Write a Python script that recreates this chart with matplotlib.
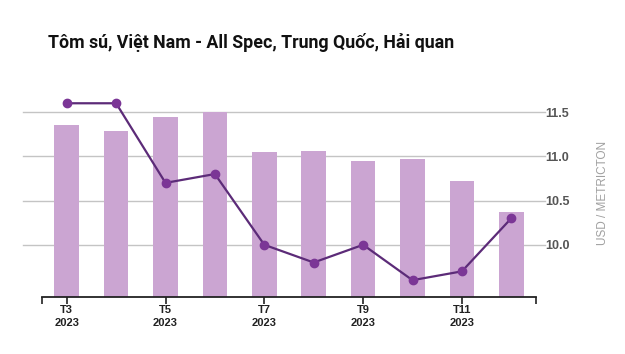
import numpy as np
import matplotlib.pyplot as plt

months = ["T3", "T4", "T5", "T6", "T7", "T8", "T9", "T10", "T11", "T12"]
year = "2023"
bar_values = [11.35, 11.29, 11.45, 11.50, 11.05, 11.06, 10.95, 10.97, 10.72, 10.37]
line_values = [11.60, 11.60, 10.70, 10.80, 10.00, 9.80, 10.00, 9.60, 9.70, 10.30]
yticks = [10.0, 10.5, 11.0, 11.5]

bar_color = "#cba5d2"
line_color = "#5c2b78"
marker_color = "#7b3696"

fig = plt.figure(figsize=(6.25, 3.54), dpi=100)
ax = fig.add_axes([42 / 625, 1 - 297 / 354, 494 / 625, 207 / 354])

x = np.arange(len(months))
ax.bar(x, bar_values, width=0.5, color=bar_color, zorder=2)
ax.plot(x, line_values, color=line_color, lw=1.6, zorder=4)
ax.plot(x, line_values, "o", color=marker_color, ms=6, zorder=5)

ax.set_xlim(-0.5, len(months) - 0.5)
ax.set_ylim(9.41, 11.75)

# grid lines run a bit past both sides of the plot
for v in yticks:
    ax.axhline(v, xmin=-0.038, xmax=1.018, color="#c4c4c4", lw=1, zorder=1, clip_on=False)

ax.yaxis.tick_right()
ax.set_yticks(yticks)
ax.set_yticklabels([f"{v:.1f}" for v in yticks])
ax.tick_params(axis="y", length=0, pad=7, labelsize=9, labelcolor="#555555")
for t in ax.get_yticklabels():
    t.set_fontweight("bold")
    t.set_family("Liberation Sans")

ax.set_xticks(x[::2])
ax.set_xticklabels([f"{m}\n{year}" for m in months[::2]], fontsize=8,
                   fontweight="bold", family="Liberation Sans", color="#222222",
                   linespacing=1.3)
ax.set_xticks([-0.5, len(months) - 0.5], minor=True)
ax.tick_params(axis="x", which="both", length=5, width=1.2, color="#222222", pad=1)

for s in ["top", "left", "right"]:
    ax.spines[s].set_visible(False)
ax.spines["bottom"].set_linewidth(1.3)
ax.spines["bottom"].set_color("#222222")

fig.text(603 / 625, 1 - 193 / 354, "USD / METRICTON", rotation=90, ha="center",
         va="center", fontsize=8.5, color="#a0a0a0", family="Liberation Sans")

fig.text(251 / 625, 1 - 43 / 354, "Tôm sú, Việt Nam - All Spec, Trung Quốc, Hải quan",
         ha="center", va="center", fontsize=12.8, fontweight="bold",
         family="Roboto", color="#111111")

fig.savefig("out.png", dpi=100)
